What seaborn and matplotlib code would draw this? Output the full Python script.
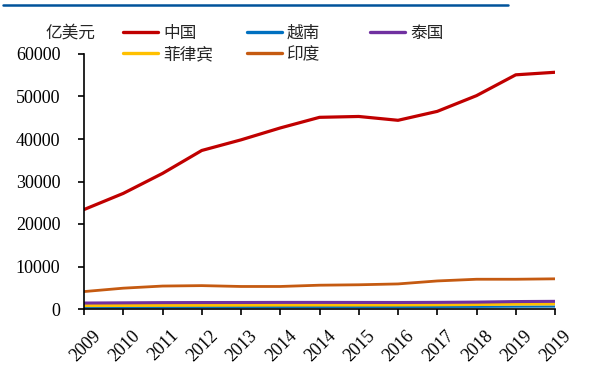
import numpy as np
import pandas as pd
import seaborn as sns
import matplotlib
matplotlib.use("Agg")
from matplotlib import pyplot as plt
from matplotlib.lines import Line2D
from matplotlib.transforms import ScaledTranslation

# tick labels as printed on the source chart (note the repeated years)
years = ['2009', '2010', '2011', '2012', '2013', '2014', '2014',
         '2015', '2016', '2017', '2018', '2019', '2019']

# values, in 亿美元
china = [23400, 27200, 31900, 37300, 39800, 42600, 45100,
         45300, 44400, 46500, 50200, 55100, 55700]
vietnam = [350, 380, 400, 420, 430, 450, 460,
           470, 480, 500, 520, 560, 580]
thailand = [1400, 1450, 1500, 1520, 1530, 1550, 1550,
            1540, 1530, 1560, 1620, 1750, 1800]
philippines = [800, 830, 860, 880, 900, 920, 930,
               930, 940, 980, 1050, 1150, 1200]
india = [4100, 4900, 5400, 5500, 5300, 5300, 5600,
         5700, 5900, 6600, 7000, 7000, 7100]

names = ['中国', '越南', '泰国', '菲律宾', '印度']
colors = ['#C00000', '#0070C0', '#7030A0', '#FFC000', '#C55A11']
series = [china, vietnam, thailand, philippines, india]

rows = []
for name, vals in zip(names, series):
    for i, v in enumerate(vals):
        rows.append({'pos': i, 'value': v, 'country': name})
df = pd.DataFrame(rows)

sns.set_style('white')
plt.rcParams['font.family'] = ['Liberation Serif', 'Noto Sans CJK SC', 'DejaVu Sans']

fig = plt.figure(figsize=(6.09, 3.68), dpi=100)
ax = fig.add_axes([84 / 609, 1 - 309 / 368, (555 - 84) / 609, (309 - 54) / 368])

# draw small series first so the big ones sit on top
draw_order = ['越南', '菲律宾', '泰国', '印度', '中国']
widths = {'中国': 2.3, '越南': 1.6, '泰国': 2.2, '菲律宾': 2.2, '印度': 2.0}
pal = dict(zip(names, colors))
for name in draw_order:
    sns.lineplot(data=df[df['country'] == name], x='pos', y='value',
                 color=pal[name], linewidth=widths[name], ax=ax,
                 legend=False, label=None)

ax.set_xlim(0, len(years) - 1)
ax.set_ylim(0, 60000)
ax.set_xticks(range(len(years)))
ax.set_xticklabels(years, rotation=45, ha='right', rotation_mode='anchor')
ax.set_yticks(range(0, 60001, 10000))
ax.set_xlabel('')
ax.set_ylabel('')
for s in ['top', 'right']:
    ax.spines[s].set_visible(False)
for s in ['left', 'bottom']:
    ax.spines[s].set_color('black')
    ax.spines[s].set_linewidth(1.2)
ax.tick_params(axis='both', which='major', direction='out', length=4,
               width=1.2, color='black', labelsize=13, labelcolor='black',
               left=True, bottom=True)
ax.tick_params(axis='y', pad=13)
ax.tick_params(axis='x', pad=9)
# shift the slanted year labels a little to the right, as in the source
shift = ScaledTranslation(8 / 100, 0, fig.dpi_scale_trans)
for lab in ax.get_xticklabels():
    lab.set_transform(lab.get_transform() + shift)

# legend: three columns of equal width, filled top to bottom
pal_handles = {n: Line2D([], [], color=pal[n], linewidth=2.4) for n in names}
columns = [['中国', '菲律宾'], ['越南', '印度'], ['泰国']]
col_x = [123, 247, 370]
for labels, x0 in zip(columns, col_x):
    fig.legend([pal_handles[n] for n in labels], labels, loc='upper left',
               bbox_to_anchor=(x0 / 609, 1 - 26 / 368), frameon=False,
               fontsize=12, handlelength=2.1, handletextpad=0.3,
               labelspacing=0.3, borderaxespad=0, borderpad=0)

fig.text(45 / 609, 1 - 34 / 368, '亿美元', fontsize=12, va='center', ha='left')

# dark blue header rule along the top
fig.add_artist(Line2D([3 / 609, 508 / 609], [1 - 5 / 368, 1 - 5 / 368],
                      color='#00539B', linewidth=1.8, transform=fig.transFigure))

fig.savefig('out.png', dpi=100)
